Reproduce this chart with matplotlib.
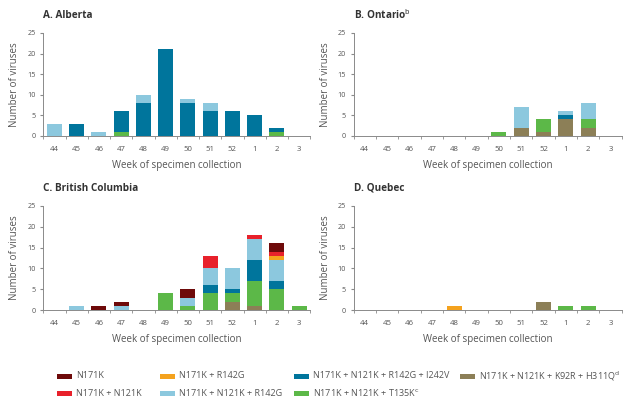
import matplotlib
matplotlib.use("Agg")
import matplotlib.pyplot as plt
import numpy as np
from matplotlib.patches import Rectangle

weeks = ["44", "45", "46", "47", "48", "49", "50", "51", "52", "1", "2", "3"]

series_names = [
    "N171K + N121K + K92R + H311Q$^{\\mathrm{d}}$",
    "N171K + N121K + T135K$^{\\mathrm{c}}$",
    "N171K + N121K + R142G + I242V",
    "N171K + N121K + R142G",
    "N171K + R142G",
    "N171K + N121K",
    "N171K",
]
series_colors = ["#8c7f57", "#5cb848", "#00759c", "#8cc8de", "#f4a21e", "#e8212b", "#6e0a0a"]

# per region: values per series (same order as series_names) per week
alberta = [
    [0, 0, 0, 0, 0, 0, 0, 0, 0, 0, 0, 0],
    [0, 0, 0, 1, 0, 0, 0, 0, 0, 0, 1, 0],
    [0, 3, 0, 5, 8, 21, 8, 6, 6, 5, 1, 0],
    [3, 0, 1, 0, 2, 0, 1, 2, 0, 0, 0, 0],
    [0, 0, 0, 0, 0, 0, 0, 0, 0, 0, 0, 0],
    [0, 0, 0, 0, 0, 0, 0, 0, 0, 0, 0, 0],
    [0, 0, 0, 0, 0, 0, 0, 0, 0, 0, 0, 0],
]
ontario = [
    [0, 0, 0, 0, 0, 0, 0, 2, 1, 4, 2, 0],
    [0, 0, 0, 0, 0, 0, 1, 0, 3, 0, 2, 0],
    [0, 0, 0, 0, 0, 0, 0, 0, 0, 1, 0, 0],
    [0, 0, 0, 0, 0, 0, 0, 5, 0, 1, 4, 0],
    [0, 0, 0, 0, 0, 0, 0, 0, 0, 0, 0, 0],
    [0, 0, 0, 0, 0, 0, 0, 0, 0, 0, 0, 0],
    [0, 0, 0, 0, 0, 0, 0, 0, 0, 0, 0, 0],
]
british_columbia = [
    [0, 0, 0, 0, 0, 0, 0, 0, 2, 1, 0, 0],
    [0, 0, 0, 0, 0, 4, 1, 4, 2, 6, 5, 1],
    [0, 0, 0, 0, 0, 0, 0, 2, 1, 5, 2, 0],
    [0, 1, 0, 1, 0, 0, 2, 4, 5, 5, 5, 0],
    [0, 0, 0, 0, 0, 0, 0, 0, 0, 0, 1, 0],
    [0, 0, 0, 0, 0, 0, 0, 3, 0, 1, 1, 0],
    [0, 0, 1, 1, 0, 0, 2, 0, 0, 0, 2, 0],
]
quebec = [
    [0, 0, 0, 0, 0, 0, 0, 0, 2, 0, 0, 0],
    [0, 0, 0, 0, 0, 0, 0, 0, 0, 1, 1, 0],
    [0, 0, 0, 0, 0, 0, 0, 0, 0, 0, 0, 0],
    [0, 0, 0, 0, 0, 0, 0, 0, 0, 0, 0, 0],
    [0, 0, 0, 0, 1, 0, 0, 0, 0, 0, 0, 0],
    [0, 0, 0, 0, 0, 0, 0, 0, 0, 0, 0, 0],
    [0, 0, 0, 0, 0, 0, 0, 0, 0, 0, 0, 0],
]

titles = ["A. Alberta", "B. Ontario$^{\\mathrm{b}}$", "C. British Columbia", "D. Quebec"]
data = [alberta, ontario, british_columbia, quebec]

plt.rcParams['font.family'] = ['Open Sans', 'DejaVu Sans']
txt = "#555555"
spine = "#8a8a8a"

W, H = 628, 407
fig = plt.figure(figsize=(6.28, 4.07), dpi=100)
positions = [
    [0.069, 0.666, 0.425, 0.253],
    [0.563, 0.666, 0.427, 0.253],
    [0.069, 0.238, 0.425, 0.256],
    [0.563, 0.238, 0.427, 0.256],
]

x = np.arange(len(weeks))
for pos, title, d in zip(positions, titles, data):
    ax = fig.add_axes(pos)
    bottom = np.zeros(len(weeks))
    for vals, col in zip(d, series_colors):
        vals = np.array(vals, dtype=float)
        ax.bar(x, vals, width=0.68, bottom=bottom, color=col, linewidth=0)
        bottom += vals
    ax.set_xlim(-0.5, len(weeks) - 0.5)
    ax.set_ylim(0, 25)
    ax.set_yticks([0, 5, 10, 15, 20, 25])
    ax.set_xticks(x)
    ax.set_xticklabels(weeks)
    ax.set_xticks(np.arange(-0.5, len(weeks), 1.0), minor=True)
    ax.tick_params(axis='x', which='major', length=0, pad=7, labelsize=5.6, colors=txt)
    ax.tick_params(axis='x', which='minor', length=2.5, color=spine, direction='out')
    ax.tick_params(axis='y', length=2.5, color=spine, labelsize=5.2, labelcolor=txt, pad=3)
    for s in ['top', 'right']:
        ax.spines[s].set_visible(False)
    for s in ['left', 'bottom']:
        ax.spines[s].set_color(spine)
        ax.spines[s].set_linewidth(0.7)
    ax.set_xlabel("Week of specimen collection", fontsize=7, color=txt, labelpad=5)
    ax.set_ylabel("Number of viruses", fontsize=7, color=txt, labelpad=5)
    ax.text(0.0, 1.17, title, transform=ax.transAxes, fontsize=7.2, fontweight='bold',
            color="#333333", ha='left', va='center')

# manual legend (column-major ordering)
order = [6, 5, 4, 3, 2, 1, 0]
col_x = [57, 160, 294, 460]
row_y = [376, 393]
slots = [(0, 0), (0, 1), (1, 0), (1, 1), (2, 0), (2, 1), (3, 0)]
for idx, (c, r) in zip(order, slots):
    px = col_x[c]
    py = row_y[r]
    fig.patches.append(Rectangle((px / W, 1 - (py + 2.5) / H), 15 / W, 5 / H,
                                 transform=fig.transFigure, color=series_colors[idx], lw=0))
    fig.text((px + 19) / W, 1 - py / H, series_names[idx], fontsize=6.5, color=txt,
             ha='left', va='center')

fig.savefig("out.png", dpi=100, facecolor='white')
